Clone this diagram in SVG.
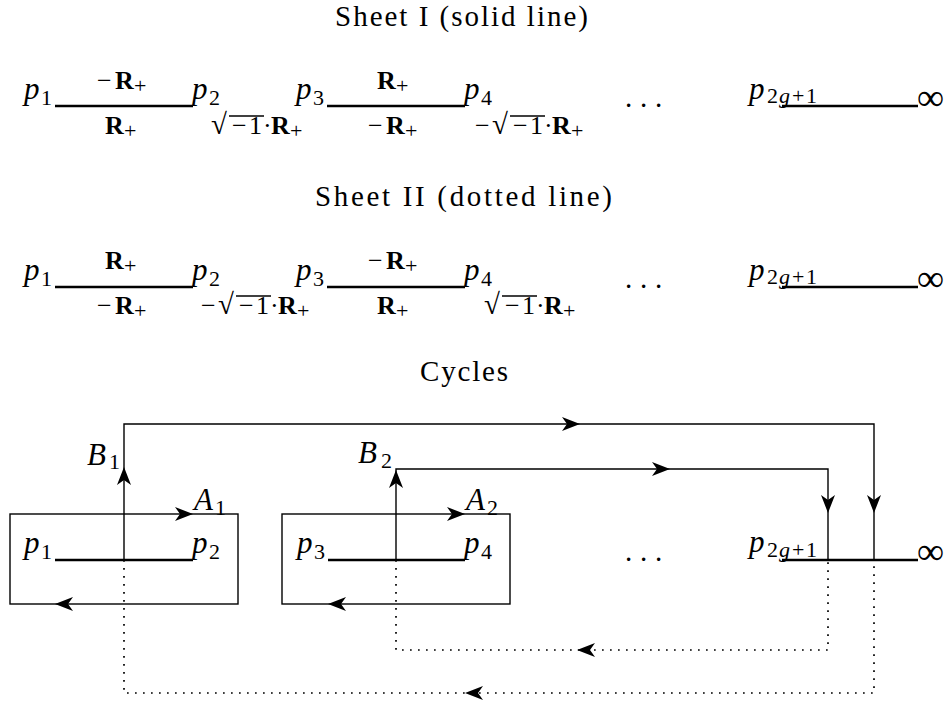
<svg xmlns="http://www.w3.org/2000/svg" width="952" height="707" viewBox="0 0 952 707">
<defs>
<style>
text{font-family:"Liberation Serif","Times New Roman",serif;fill:#000}
.t{font-size:29px}
.it{font-style:italic;font-size:31px}
.sub{font-size:22px;font-style:normal}
.sg{font-size:22px;font-style:italic}
.lb{font-size:26px}
.bf{font-weight:bold}
.sb{font-size:22px;font-weight:normal}
.rad{font-size:29px}
.inf{font-size:38px}
.cut{stroke:#000;stroke-width:2.6;fill:none}
.ln{stroke:#000;stroke-width:1.4;fill:none}
.vin{stroke:#000;stroke-width:1.4;fill:none}
.dot{stroke:#000;stroke-width:1.7;fill:none;stroke-dasharray:1.7 6.3}
</style>
<path id="ah" d="M0,0 L-18,-7 L-13,0 L-18,7 Z" fill="#000"/>
</defs>
<rect width="952" height="707" fill="#fff"/>

<g id="title-sheet1"><text class="t" x="335" y="26" textLength="253" lengthAdjust="spacing">Sheet I (solid line)</text></g>

<!-- Sheet I -->
<g id="s1-cut12">
<line class="cut" x1="55" y1="106" x2="193" y2="106"/>
<text class="it" x="24" y="99">p<tspan class="sub" x="41" y="105">1</tspan></text>
<text class="it" x="192" y="99">p<tspan class="sub" x="209" y="105">2</tspan></text>
<text class="lb" y="89"><tspan x="97">−</tspan><tspan class="bf" x="115">R</tspan><tspan class="sb" x="134" dy="4">+</tspan></text>
<text class="lb" y="134"><tspan class="bf" x="105">R</tspan><tspan class="sb" x="124" dy="4">+</tspan></text>
<text class="lb" y="134"><tspan class="rad" x="211">√</tspan><tspan x="232">−</tspan><tspan x="249">1</tspan><tspan x="263">·</tspan><tspan class="bf" x="271">R</tspan><tspan class="sb" x="290" dy="4">+</tspan></text>
<line class="vin" x1="229" y1="116" x2="264" y2="116"/>
</g>
<g id="s1-cut34">
<line class="cut" x1="327" y1="106" x2="465" y2="106"/>
<text class="it" x="296" y="99">p<tspan class="sub" x="313" y="105">3</tspan></text>
<text class="it" x="464" y="99">p<tspan class="sub" x="481" y="105">4</tspan></text>
<text class="lb" y="89"><tspan class="bf" x="377">R</tspan><tspan class="sb" x="396" dy="4">+</tspan></text>
<text class="lb" y="134"><tspan x="368">−</tspan><tspan class="bf" x="386">R</tspan><tspan class="sb" x="405" dy="4">+</tspan></text>
<text class="lb" y="134"><tspan x="475">−</tspan><tspan class="rad" x="492">√</tspan><tspan x="513">−</tspan><tspan x="530">1</tspan><tspan x="544">·</tspan><tspan class="bf" x="552">R</tspan><tspan class="sb" x="571" dy="4">+</tspan></text>
<line class="vin" x1="510" y1="116" x2="545" y2="116"/>
</g>
<g id="s1-dots"><text class="t" y="107"><tspan x="625">.</tspan><tspan x="640">.</tspan><tspan x="655">.</tspan></text></g>
<g id="s1-cutinf">
<line class="cut" x1="782" y1="106" x2="918" y2="106"/>
<text class="it" x="749" y="99">p<tspan class="sub" x="767" y="103">2</tspan><tspan class="sg" x="779">g</tspan><tspan class="sub" x="792">+</tspan><tspan class="sub" x="806">1</tspan></text>
<text class="inf" x="917" y="110">∞</text>
</g>

<g id="title-sheet2"><text class="t" x="315" y="206" textLength="297" lengthAdjust="spacing">Sheet II (dotted line)</text></g>

<!-- Sheet II -->
<g id="s2-cut12">
<line class="cut" x1="55" y1="287" x2="193" y2="287"/>
<text class="it" x="24" y="280">p<tspan class="sub" x="41" y="286">1</tspan></text>
<text class="it" x="192" y="280">p<tspan class="sub" x="209" y="286">2</tspan></text>
<text class="lb" y="269"><tspan class="bf" x="105">R</tspan><tspan class="sb" x="124" dy="4">+</tspan></text>
<text class="lb" y="314"><tspan x="97">−</tspan><tspan class="bf" x="115">R</tspan><tspan class="sb" x="134" dy="4">+</tspan></text>
<text class="lb" y="314"><tspan x="201">−</tspan><tspan class="rad" x="218">√</tspan><tspan x="239">−</tspan><tspan x="256">1</tspan><tspan x="270">·</tspan><tspan class="bf" x="278">R</tspan><tspan class="sb" x="297" dy="4">+</tspan></text>
<line class="vin" x1="236" y1="296" x2="271" y2="296"/>
</g>
<g id="s2-cut34">
<line class="cut" x1="327" y1="287" x2="465" y2="287"/>
<text class="it" x="296" y="280">p<tspan class="sub" x="313" y="286">3</tspan></text>
<text class="it" x="464" y="280">p<tspan class="sub" x="481" y="286">4</tspan></text>
<text class="lb" y="269"><tspan x="368">−</tspan><tspan class="bf" x="386">R</tspan><tspan class="sb" x="405" dy="4">+</tspan></text>
<text class="lb" y="314"><tspan class="bf" x="377">R</tspan><tspan class="sb" x="396" dy="4">+</tspan></text>
<text class="lb" y="314"><tspan class="rad" x="484">√</tspan><tspan x="505">−</tspan><tspan x="522">1</tspan><tspan x="536">·</tspan><tspan class="bf" x="544">R</tspan><tspan class="sb" x="563" dy="4">+</tspan></text>
<line class="vin" x1="502" y1="296" x2="537" y2="296"/>
</g>
<g id="s2-dots"><text class="t" y="288"><tspan x="625">.</tspan><tspan x="640">.</tspan><tspan x="655">.</tspan></text></g>
<g id="s2-cutinf">
<line class="cut" x1="782" y1="287" x2="918" y2="287"/>
<text class="it" x="749" y="280">p<tspan class="sub" x="767" y="284">2</tspan><tspan class="sg" x="779">g</tspan><tspan class="sub" x="792">+</tspan><tspan class="sub" x="806">1</tspan></text>
<text class="inf" x="917" y="291">∞</text>
</g>

<g id="title-cycles"><text class="t" x="420" y="381" textLength="88" lengthAdjust="spacing">Cycles</text></g>

<!-- Cycles -->
<g id="box1">
<rect class="ln" x="10" y="514" width="228" height="90"/>
<line class="cut" x1="55" y1="560" x2="193" y2="560"/>
<text class="it" x="24" y="553">p<tspan class="sub" x="41" y="559">1</tspan></text>
<text class="it" x="192" y="553">p<tspan class="sub" x="209" y="559">2</tspan></text>
</g>
<g id="box2">
<rect class="ln" x="282" y="514" width="228" height="90"/>
<line class="cut" x1="328" y1="560" x2="465" y2="560"/>
<text class="it" x="297" y="553">p<tspan class="sub" x="314" y="559">3</tspan></text>
<text class="it" x="464" y="553">p<tspan class="sub" x="481" y="559">4</tspan></text>
</g>
<g id="c-dots"><text class="t" y="561"><tspan x="625">.</tspan><tspan x="640">.</tspan><tspan x="655">.</tspan></text></g>
<g id="c-cutinf">
<line class="cut" x1="782" y1="560" x2="918" y2="560"/>
<text class="it" x="749" y="552">p<tspan class="sub" x="767" y="557">2</tspan><tspan class="sg" x="779">g</tspan><tspan class="sub" x="792">+</tspan><tspan class="sub" x="806">1</tspan></text>
<text class="inf" x="917" y="564">∞</text>
</g>
<g id="labels">
<text class="it" x="87" y="465">B<tspan class="sub" x="109" y="469">1</tspan></text>
<text class="it" x="194" y="510">A<tspan class="sub" x="215" y="515">1</tspan></text>
<text class="it" x="358" y="463">B<tspan class="sub" x="381" y="468">2</tspan></text>
<text class="it" x="466" y="510">A<tspan class="sub" x="487" y="515">2</tspan></text>
</g>

<g id="connectors">
<path class="ln" d="M124,560 V424 H874 V560"/>
<path class="ln" d="M396,560 V469 H828 V560"/>
<path class="dot" d="M124,560 V693 H874 V560"/>
<path class="dot" d="M396,560 V650 H828 V560"/>
<use href="#ah" transform="translate(193,514)"/>
<use href="#ah" transform="translate(55,604) rotate(180)"/>
<use href="#ah" transform="translate(465,514)"/>
<use href="#ah" transform="translate(328,604) rotate(180)"/>
<use href="#ah" transform="translate(124,467) rotate(-90)"/>
<use href="#ah" transform="translate(396,470) rotate(-90)"/>
<use href="#ah" transform="translate(580,424)"/>
<use href="#ah" transform="translate(670,469)"/>
<use href="#ah" transform="translate(828,513) rotate(90)"/>
<use href="#ah" transform="translate(874,513) rotate(90)"/>
<use href="#ah" transform="translate(577,650) rotate(180)"/>
<use href="#ah" transform="translate(465,693) rotate(180)"/>
</g>
</svg>
